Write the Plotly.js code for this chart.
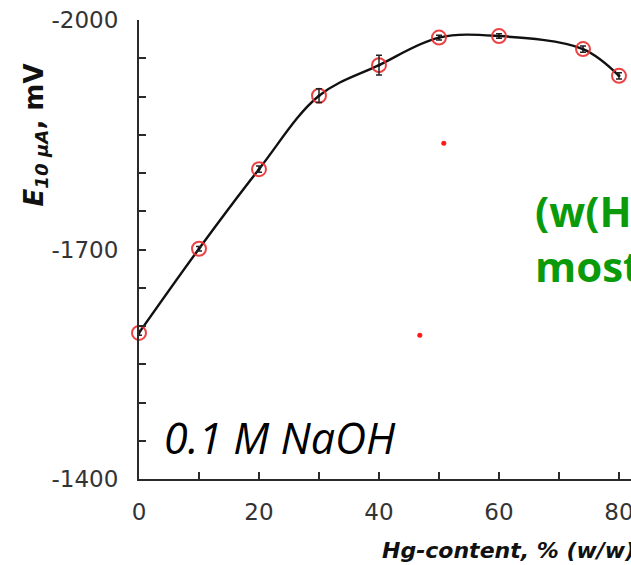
<!DOCTYPE html>
<html>
<head>
<meta charset="utf-8">
<script src="https://cdn.plot.ly/plotly-3.0.1.min.js"></script>
<style>html,body{margin:0;padding:0;background:#fff;}#chart{width:631px;height:565px;}</style>
</head>
<body>
<div id="chart"></div>
<script>
// Data
const hgContent = [0, 10, 20, 30, 40, 50, 60, 74, 80];
const potential = [-1591, -1701, -1805, -1901, -1941, -1977, -1979, -1962, -1927];
const errors    = [3, 3, 4, 9, 13, 3, 3, 4, 4];
const strayX = [50.8, 46.8];
const strayY = [-1839, -1588];
const xTickVals = [0, 20, 40, 60, 80];
const xTickText = ['0', '20', '40', '60', '80'];
const yTickVals = [-2000, -1700, -1400];
const yTickText = ['-2000', '-1700', '-1400'];

const axisColor = '#2a2a2a';
const tickFont = {family: 'DejaVu Sans', size: 23, color: '#333'};

const traces = [
  {x: hgContent, y: potential, type: 'scatter', mode: 'lines',
   line: {color: '#111', width: 2.4, shape: 'spline', smoothing: 1}, cliponaxis: false, hoverinfo: 'skip'},
  {x: hgContent, y: potential, type: 'scatter', mode: 'markers', cliponaxis: false,
   marker: {symbol: 'circle-open', size: 14, color: 'rgba(235,45,45,0.9)', line: {width: 2, color: 'rgba(235,45,45,0.9)'}}},
  {x: hgContent, y: potential, type: 'scatter', mode: 'markers', cliponaxis: false,
   marker: {symbol: 'circle', size: 3, color: '#111'},
   error_y: {type: 'data', array: errors, visible: true, color: '#222', thickness: 1.5, width: 3}},
  {x: strayX, y: strayY, type: 'scatter', mode: 'markers',
   marker: {symbol: 'circle', size: 5, color: '#ff1a1a'}}
];

const layout = {
  width: 631, height: 565,
  margin: {l: 139, r: 0, t: 20, b: 86, pad: 0},
  paper_bgcolor: '#fff', plot_bgcolor: '#fff',
  showlegend: false,
  xaxis: {
    range: [0, 82], showgrid: false, zeroline: false,
    showline: true, linecolor: axisColor, linewidth: 2,
    tickmode: 'array', tickvals: xTickVals, ticktext: xTickText,
    ticks: 'inside', ticklen: 7, tickwidth: 2, tickcolor: axisColor,
    ticklabelstandoff: 11, ticklabeloverflow: 'allow',
    minor: {dtick: 10, ticks: 'inside', ticklen: 7, tickwidth: 2, tickcolor: axisColor, showgrid: false},
    tickfont: tickFont
  },
  yaxis: {
    range: [-1400, -2000], showgrid: false, zeroline: false,
    showline: true, linecolor: axisColor, linewidth: 2,
    tickmode: 'array', tickvals: yTickVals, ticktext: yTickText,
    ticks: 'inside', ticklen: 7, tickwidth: 2, tickcolor: axisColor,
    ticklabelstandoff: 14, ticklabeloverflow: 'allow',
    minor: {dtick: 50, ticks: 'inside', ticklen: 7, tickwidth: 2, tickcolor: axisColor, showgrid: false},
    tickfont: tickFont
  },
  annotations: [
    {xref: 'paper', yref: 'paper', x: -0.210, y: 0.750, xanchor: 'center', yanchor: 'middle',
     textangle: -90, showarrow: false,
     text: '<b><i>E</i><sub><i>10 µA</i></sub>, mV</b>',
     font: {family: 'DejaVu Sans', size: 26, color: '#111'}},
    {xref: 'paper', yref: 'paper', x: 0.490, y: -0.155, xanchor: 'left', yanchor: 'middle',
     showarrow: false, text: '<b><i>Hg-content, % (w/w)</i></b>',
     font: {family: 'DejaVu Sans', size: 22, color: '#111'}},
    {xref: 'paper', yref: 'paper', x: 0.0468, y: 0.0915, xanchor: 'left', yanchor: 'middle',
     showarrow: false, text: '<i>0.1 M NaOH</i>',
     font: {family: 'Open Sans', size: 43, color: '#000'}},
    {xref: 'paper', yref: 'paper', x: 0.800, y: 0.584, xanchor: 'left', yanchor: 'middle',
     showarrow: false, text: '<b>(w(Hg)</b>',
     font: {family: 'Open Sans', size: 42, color: '#0a9a0a'}},
    {xref: 'paper', yref: 'paper', x: 0.800, y: 0.466, xanchor: 'left', yanchor: 'middle',
     showarrow: false, text: '<b>most</b>',
     font: {family: 'Open Sans', size: 42, color: '#0a9a0a'}}
  ]
};

Plotly.newPlot('chart', traces, layout, {staticPlot: true, displayModeBar: false});
</script>
</body>
</html>
